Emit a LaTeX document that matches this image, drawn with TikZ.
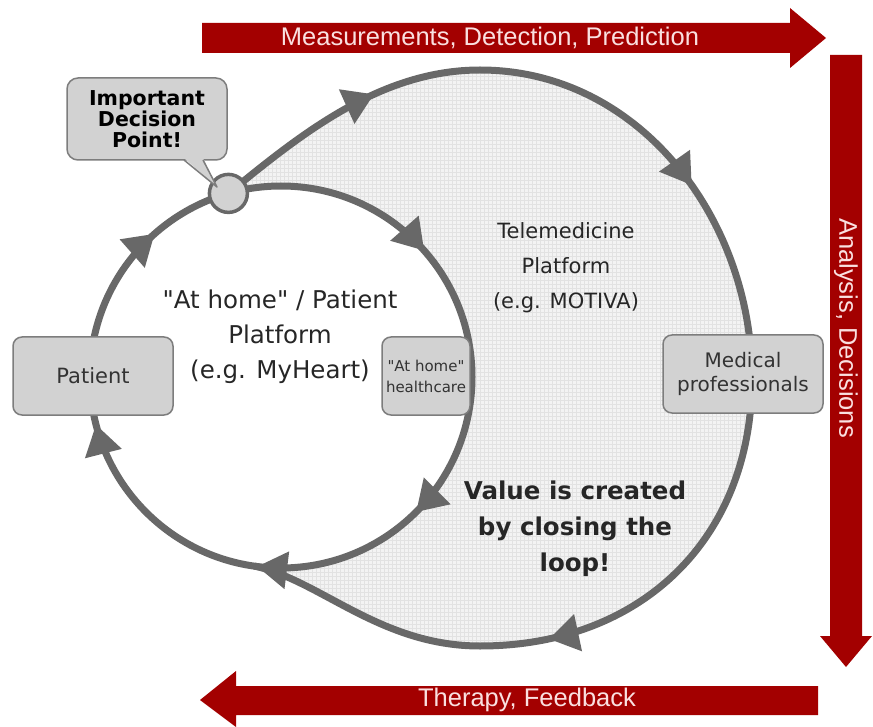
\documentclass[tikz,border=0pt]{standalone}
\usepackage{fontspec}
\newfontfamily\diagfont{DejaVu Sans}
\newfontfamily\arrowfont{Liberation Sans}
\usetikzlibrary{arrows.meta,decorations.markings}
\definecolor{LoopGray}{RGB}{104,104,104}
\definecolor{BoxGray}{RGB}{210,210,210}
\definecolor{EdgeGray}{RGB}{125,125,125}
\definecolor{ShadeGray}{RGB}{243,243,243}
\definecolor{GridGray}{RGB}{226,226,226}
\definecolor{ArrowRed}{RGB}{163,0,0}
\definecolor{LabelPink}{RGB}{250,224,224}

\tikzset{
	loophead/.tip={Triangle[length=30pt,width=36pt]},
	loopline/.style={draw=LoopGray, line width=7pt},
	stagebox/.style={draw=EdgeGray, fill=BoxGray, line width=1.5pt, rounded corners=9pt,
		align=center, inner sep=0pt, font=\diagfont\fontsize{20}{24}\selectfont, text=black!80},
	platformtext/.style={align=center, inner sep=0pt, font=\diagfont\fontsize{21}{35}\selectfont, text=black!85},
	redlabel/.style={inner sep=0pt, text=LabelPink, font=\arrowfont\fontsize{25.5}{26}\selectfont}
}

\begin{document}
\begin{tikzpicture}[x=1pt,y=1pt,yscale=-1,xscale=1]
		\useasboundingbox (0,0) rectangle (873,727);

		% Points where the two loops meet
		\coordinate (fork) at (228.4,193.4);
		\coordinate (merge) at (254.4,566.1);

		% Shaded crescent between the loops
		\begin{scope}
			\clip (fork) .. controls (300,135) and (380,70) .. (480,70)
			.. controls (640,70) and (752,220) .. (752,378)
			.. controls (752,540) and (640,646) .. (480,646)
			.. controls (380,646) and (320,580) .. (merge)
			arc[start angle=98, end angle=-106, radius=191] -- cycle;
			\fill[ShadeGray] (150,50) rectangle (780,670);
			\draw[GridGray, line width=0.3pt, step=4] (150,50) grid (780,670);
		\end{scope}

		% Red arrows round the picture
		\fill[ArrowRed] (202,23) -- (790,23) -- (790,8) -- (826,38) -- (790,68) -- (790,53) -- (202,53) -- cycle;
		\fill[ArrowRed] (830,55) -- (862,55) -- (862,636) -- (872,636) -- (846,667) -- (820,636) -- (830,636) -- cycle;
		\fill[ArrowRed] (818,686) -- (236,686) -- (236,671) -- (200,700) -- (236,727) -- (236,715) -- (818,715) -- cycle;
		\node[redlabel] (measure) at (490,38) {Measurements, Detection, Prediction};
		\node[redlabel, rotate=-90] (analysis) at (846,328) {Analysis, Decisions};
		\node[redlabel] (therapy) at (527,700) {Therapy, Feedback};

		% Inner loop ("at home")
		\draw[loopline, postaction={decorate, decoration={markings,
			mark=at position 0.125 with {\arrow{loophead}},
			mark=at position 0.27 with {\arrow{loophead}},
			mark=at position 0.46 with {\arrow{loophead}},
			mark=at position 0.635 with {\arrow{loophead}},
			mark=at position 0.885 with {\arrow{loophead}}}}]
			(281,377) circle[radius=191];

		% Outer loop (telemedicine)
		\draw[loopline, postaction={decorate, decoration={markings,
			mark=at position 0.125 with {\arrow{loophead}},
			mark=at position 0.38 with {\arrow{loophead}},
			mark=at position 0.78 with {\arrow{loophead}}}}]
			(fork) .. controls (300,135) and (380,70) .. (480,70)
			.. controls (640,70) and (752,220) .. (752,378)
			.. controls (752,540) and (640,646) .. (480,646)
			.. controls (380,646) and (320,580) .. (merge);

		% Boxes on the loops
		\node[stagebox, minimum width=160pt, minimum height=78pt, font=\diagfont\fontsize{21}{24}\selectfont] (patient) at (93,376) {Patient};
		\node[stagebox, minimum width=88pt, minimum height=78pt, font=\diagfont\fontsize{15}{21}\selectfont] (homecare) at (426,376) {"At home"\\healthcare};
		\node[stagebox, minimum width=160pt, minimum height=78pt] (medical) at (743,374) {Medical\\professionals};

		% Decision point and its callout
		\node[circle, minimum size=38pt, inner sep=0pt, fill=BoxGray, draw=LoopGray, line width=3.5pt] (dp) at (fork) {};
		\node[draw=EdgeGray, fill=BoxGray, line width=1.5pt, rounded corners=11pt, minimum width=160pt, minimum height=82pt,
			align=center, inner sep=0pt, font=\diagfont\bfseries\fontsize{20.5}{21}\selectfont] (callout) at (147,119) {Important\\Decision\\Point!};
		\fill[BoxGray] (184,158) -- (217,187) -- (203,158) -- cycle;
		\draw[EdgeGray, line width=1.5pt, line join=round] (184,160) -- (217,187) -- (203,160);

		% Texts inside the loops
		\node[platformtext] (tele) at (566,268) {Telemedicine\\Platform\\(e.g. MOTIVA)};
		\node[platformtext, font=\diagfont\fontsize{24.5}{35}\selectfont] (home) at (280,337) {"At home" / Patient\\Platform\\(e.g. MyHeart)};
		\node[platformtext, font=\diagfont\bfseries\fontsize{24.5}{36}\selectfont] (value) at (575,529) {Value is created\\by closing the\\loop!};
\end{tikzpicture}
\end{document}
